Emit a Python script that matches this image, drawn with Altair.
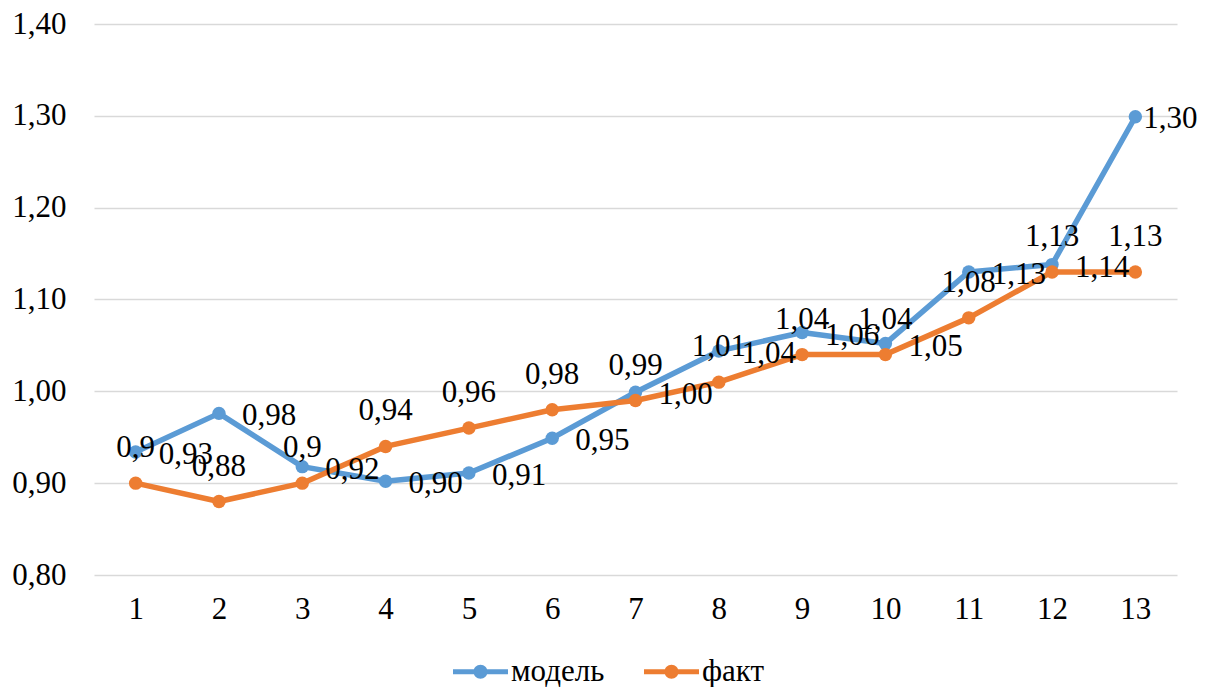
import altair as alt
import pandas as pd

categories = list(range(1, 14))
model_values = [0.934, 0.976, 0.918, 0.902, 0.911, 0.949, 0.999, 1.044, 1.064, 1.052, 1.130, 1.138, 1.299]
fact_values = [0.90, 0.88, 0.90, 0.94, 0.96, 0.98, 0.99, 1.01, 1.04, 1.04, 1.08, 1.13, 1.13]
model_labels = ["0,93", "0,98", "0,92", "0,90", "0,91", "0,95", "1,00", "1,04", "1,06", "1,05", "1,13", "1,14", "1,30"]
fact_labels = ["0,9", "0,88", "0,9", "0,94", "0,96", "0,98", "0,99", "1,01", "1,04", "1,04", "1,08", "1,13", "1,13"]
series_names = ["модель", "факт"]
series_colors = ["#5B9BD5", "#ED7D31"]
y_ticks = [0.8, 0.9, 1.0, 1.1, 1.2, 1.3, 1.4]

rows = []
for c, v, l in zip(categories, model_values, model_labels):
    rows.append({"x": c, "series": series_names[0], "value": v, "label": l})
for c, v, l in zip(categories, fact_values, fact_labels):
    rows.append({"x": c, "series": series_names[1], "value": v, "label": l})
df = pd.DataFrame(rows)

FONT = "Liberation Serif"
FS = 31

x_enc = alt.X("x:O", scale=alt.Scale(domain=categories, paddingOuter=0.5),
              axis=alt.Axis(title=None, labelAngle=0, ticks=False, domain=False, grid=False,
                            labelFont=FONT, labelFontSize=FS, labelColor="black", labelPadding=19))
y_enc = alt.Y("value:Q", scale=alt.Scale(domain=[0.8, 1.4], nice=False, zero=False),
              axis=alt.Axis(title=None, values=y_ticks, ticks=False, domain=False,
                            labelExpr="replace(format(datum.value, '.2f'), '.', ',')",
                            labelFont=FONT, labelFontSize=FS, labelColor="black", labelPadding=28,
                            gridColor="#D9D9D9", gridWidth=1.3))

color_scale = alt.Scale(domain=series_names, range=series_colors)

sym_path = ("M-1.833,-0.167 L-0.4,-0.167 L-0.4,0.167 L-1.833,0.167 Z "
            "M0.4,-0.167 L1.833,-0.167 L1.833,0.167 L0.4,0.167 Z "
            "M-0.467,0 A0.467,0.467 0 1,1 0.467,0 A0.467,0.467 0 1,1 -0.467,0 Z")

legend = alt.Legend(title=None, orient="none", direction="horizontal", legendX=371, legendY=632,
                    symbolType=sym_path, symbolSize=900, symbolOpacity=1, symbolStrokeWidth=0,
                    labelFont=FONT, labelFontSize=FS, labelColor="black", labelOffset=15,
                    columnPadding=39)

base = alt.Chart(df)

lines = base.mark_line(strokeWidth=5.5, strokeJoin="round", strokeCap="round").encode(
    x=x_enc, y=y_enc,
    stroke=alt.Stroke("series:N", scale=color_scale, legend=legend),
    detail="series:N",
)

points = base.mark_point(filled=True, size=180, opacity=1).encode(
    x=x_enc, y=y_enc,
    fill=alt.Fill("series:N", scale=color_scale, legend=legend),
)

model_text = base.transform_filter(
    (alt.datum.series == series_names[0]) & (alt.datum.x < 13)
).mark_text(align="left", baseline="middle", dx=23, dy=3, font=FONT, fontSize=FS, color="black").encode(
    x=x_enc, y=y_enc, text="label:N")

model_text_last = base.transform_filter(
    (alt.datum.series == series_names[0]) & (alt.datum.x == 13)
).mark_text(align="left", baseline="middle", dx=8, dy=2, font=FONT, fontSize=FS, color="black").encode(
    x=x_enc, y=y_enc, text="label:N")

fact_text = base.transform_filter(
    alt.datum.series == series_names[1]
).mark_text(align="center", baseline="middle", dx=0, dy=-35, font=FONT, fontSize=FS, color="black").encode(
    x=x_enc, y=y_enc, text="label:N")

chart = alt.layer(lines, points, model_text, model_text_last, fact_text).properties(
    width=1083, height=551,
    background="white",
    padding={"left": 3, "top": 0, "right": 0, "bottom": 0},
).configure_view(stroke=None)

chart.save("out.html", embed_options={"renderer": "svg", "actions": False})
